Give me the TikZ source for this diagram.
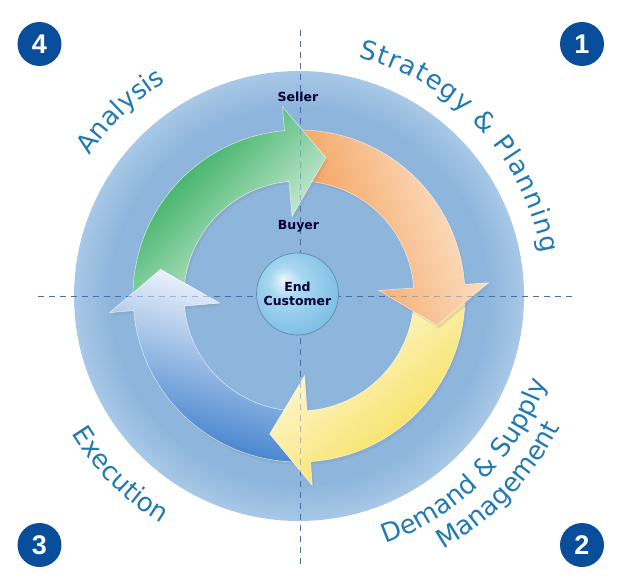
\documentclass[tikz,border=0pt]{standalone}
\usepackage{fontspec}
\usepackage{xcolor}
\usetikzlibrary{decorations.text, shadows}
\newfontfamily\labelfont{DejaVu Sans}
\newfontfamily\badgefont{Liberation Sans}
\definecolor{discin}{RGB}{142,182,220}
\definecolor{discrim}{RGB}{168,200,231}
\definecolor{ballhi}{RGB}{234,246,252}
\definecolor{ballmid}{RGB}{168,216,241}
\definecolor{ballrim}{RGB}{126,190,229}
\definecolor{ringline}{RGB}{72,112,166}
\definecolor{labelblue}{RGB}{33,122,178}
\definecolor{badgeblue}{RGB}{8,78,155}
\definecolor{greendark}{RGB}{20,162,70}
\definecolor{greenpale}{RGB}{242,249,244}
\definecolor{orangepale}{RGB}{253,234,214}
\definecolor{orangedeep}{RGB}{243,152,76}
\definecolor{yellowdeep}{RGB}{246,220,72}
\definecolor{yellowpale}{RGB}{255,252,236}
\definecolor{bluedeep}{RGB}{52,120,202}
\definecolor{bluepale}{RGB}{250,252,255}
\pgfdeclareradialshading{bigdisc}{\pgfpoint{0bp}{0bp}}{color(0bp)=(discin); color(21bp)=(discin); color(25bp)=(discrim); color(50bp)=(discrim)}
\pgfdeclareradialshading{customerball}{\pgfpoint{-9bp}{9bp}}{color(0bp)=(ballhi); color(10bp)=(ballmid); color(30bp)=(ballrim); color(50bp)=(ballrim)}

\begin{document}
\begin{tikzpicture}[x=1pt, y=1pt,
    cyclearrow/.style={draw=white, draw opacity=0.6, line width=0.6pt, drop shadow={opacity=0.18, shadow xshift=2pt, shadow yshift=-3pt}},
    arrowshape/.style={insert path={({#1+\tailgap}:\rout) arc[start angle={#1+\tailgap}, end angle={#1}, radius=\rout] -- (#1:\hout) -- ({#1-\hlen}:\rmid) -- (#1:\hin) -- (#1:\rin) arc[start angle={#1}, end angle={#1+\tailgap}, radius=\rin] -- cycle}},
    axisline/.style={ringline, dash pattern=on 6pt off 5pt, line width=0.9pt},
    numbadge/.style={circle, fill=badgeblue, minimum size=44pt, inner sep=0pt, text=white, font=\badgefont\fontsize{27}{27}\selectfont\bfseries},
    rolelabel/.style={font=\labelfont\fontsize{12.5}{14.5}\selectfont\bfseries, text=black!80!blue, align=center},
    customer/.style={circle, shading=customerball, draw=ballrim!75!black, line width=0.7pt, minimum size=82pt, inner sep=0pt},
    phase/.style={decorate, decoration={text along path, text color=labelblue, text align=center, text={|\labelfont\fontsize{26}{26}\selectfont|#1}}}]
            \def\rin{115}
            \def\rout{166}
            \def\hin{80}
            \def\hout{190}
            \def\rmid{141}
            \def\hlen{16}
            \def\tailgap{85}
            \useasboundingbox (-299,-280) rectangle (318,296);
            \shade[shading=bigdisc] (0,0) circle (225);
            \draw[axisline] (1,266) -- (1,-269);
            \draw[axisline] (-261,0) -- (273,0);
            % the four arrows, the blue head is laid again over the green tail
            \shadedraw[cyclearrow, left color=bluepale, right color=bluedeep, shading angle=-15, arrowshape=185];
            \shadedraw[cyclearrow, left color=yellowpale, right color=yellowdeep, shading angle=40, arrowshape=-86];
            \shadedraw[cyclearrow, left color=orangepale, right color=orangedeep, shading angle=-70, arrowshape=4];
            \shadedraw[cyclearrow, left color=greendark, right color=greenpale, shading angle=45, arrowshape=95];
            \begin{scope}
                \clip (185:\hout) -- ({185-\hlen}:\rmid) -- (185:\hin) -- cycle;
                \shadedraw[cyclearrow, left color=bluepale, right color=bluedeep, shading angle=-15, arrowshape=185];
            \end{scope}
            \draw[axisline, opacity=0.4] (1,266) -- (1,-269);
            \draw[axisline, opacity=0.4] (-261,0) -- (273,0);
            \node[customer] (endcust) at (-1.5,2) {};
            \node[rolelabel] (endtext) at (endcust.center) {End\\Customer};
            \node[rolelabel] (seller) at (-1,199.5) {Seller};
            \node[rolelabel] (buyer) at (-0.5,69.5) {Buyer};
            % phase names round the disc
            \path[phase={Strategy {\&} Planning}, decoration={text align=fit to path}] (76:246) arc[start angle=76, end angle=10, radius=246];
            \path[phase={Analysis}] (161:252) arc[start angle=161, end angle=107, radius=252];
            \path[phase={Execution}] (200:266) arc[start angle=200, end angle=250, radius=266];
            \path[phase={Demand {\&} Supply}] (-80:262) arc[start angle=-80, end angle=-10, radius=262];
            \path[phase={Management}] (-70:292) arc[start angle=-70, end angle=-17, radius=292];
            \node[numbadge] (badge1) at (283,252) {1};
            \node[numbadge] (badge2) at (283,-249) {2};
            \node[numbadge] (badge3) at (-259.5,-249) {3};
            \node[numbadge] (badge4) at (-259.5,252) {4};
        \end{tikzpicture}
\end{document}
